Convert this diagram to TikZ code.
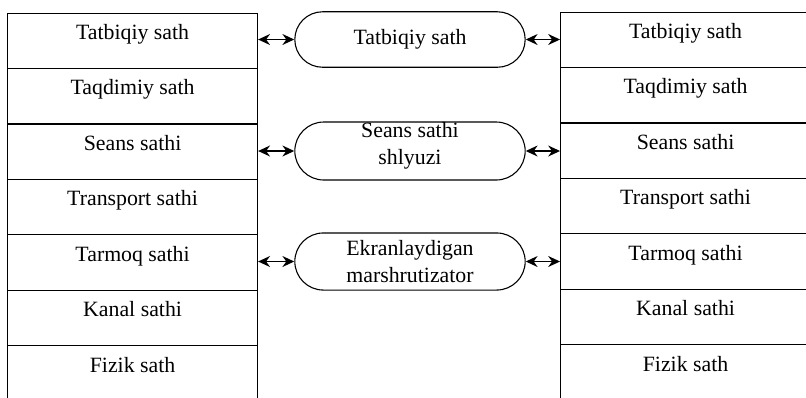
\documentclass[tikz,border=0pt]{standalone}
\usepackage{fontspec}
\setmainfont{Liberation Serif}
\usetikzlibrary{arrows.meta,matrix,shapes.misc}

\begin{document}
\begin{tikzpicture}[x=0.55pt, y=-0.55pt, line width=0.6pt, every node/.style={font=\fontsize{12}{15}\selectfont},
	layers/.style={matrix of nodes, inner sep=0pt, anchor=north west, row sep=-0.6pt, nodes={draw, minimum width=137.5pt, minimum height=30.5pt, text height=8.2pt, text depth=9.7pt, inner sep=2pt, anchor=center}},
	gate/.style={rounded rectangle, draw, align=center, minimum width=128.7pt, minimum height=30.5pt, inner sep=1pt},
	twoway/.style={line width=0.9pt, {Stealth[length=6.5pt,width=6pt]}-{Stealth[length=6.5pt,width=6pt]}}]
	\useasboundingbox (0,0) rectangle (806,397);
	\matrix (L) [layers] at (6.5,12) {
		Tatbiqiy sath \\
		Taqdimiy sath \\
		Seans sathi \\
		Transport sathi \\
		Tarmoq sathi \\
		Kanal sathi \\
		Fizik sath \\
	};
	\matrix (R) [layers] at (559.5,11) {
		Tatbiqiy sath \\
		Taqdimiy sath \\
		Seans sathi \\
		Transport sathi \\
		Tarmoq sathi \\
		Kanal sathi \\
		Fizik sath \\
	};
	\node (app) [gate] at (410,39.5) {Tatbiqiy sath};
	\node (gw) [gate, minimum height=31.9pt, label={[align=center, yshift=3pt]center:Seans sathi\\shlyuzi}] at (410,151) {};
	\node (fw) [gate, minimum height=31.4pt] at (410,261.5) {Ekranlaydigan\\marshrutizator};
	\draw[twoway] (L-1-1.east |- app.west) -- (app.west);
	\draw[twoway] (app.east) -- (app.east -| R-1-1.west);
	\draw[twoway] (L-3-1.east |- gw.west) -- (gw.west);
	\draw[twoway] (gw.east) -- (gw.east -| R-3-1.west);
	\draw[twoway] (L-5-1.east |- fw.west) -- (fw.west);
	\draw[twoway] (fw.east) -- (fw.east -| R-5-1.west);
\end{tikzpicture}
\end{document}
